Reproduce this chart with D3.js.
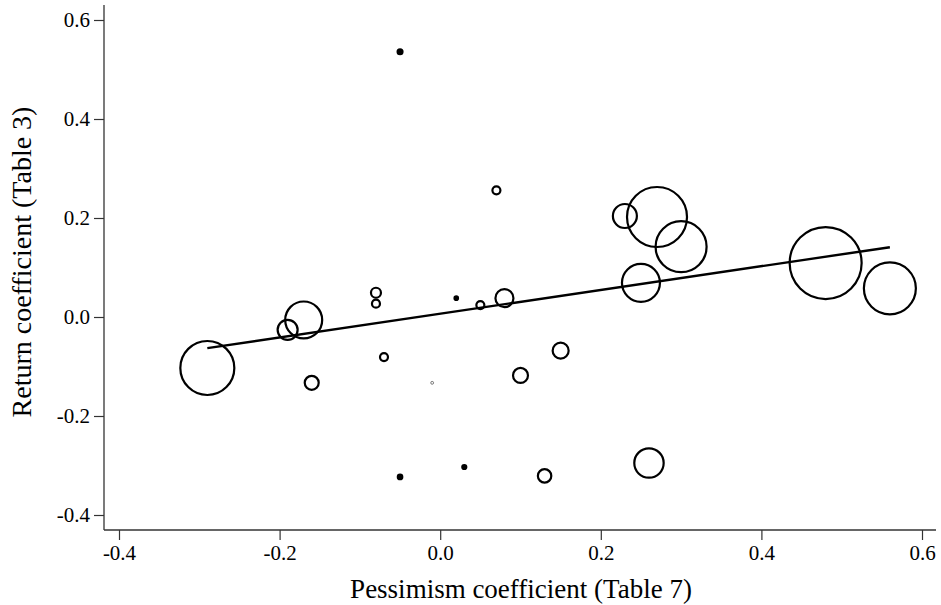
<!DOCTYPE html>
<html>
<head>
<meta charset="utf-8">
<script src="https://cdn.jsdelivr.net/npm/d3@7"></script>
<style>
  html, body { margin: 0; padding: 0; background: #fff; }
  svg { display: block; }
  svg text { font-family: "Liberation Serif", "Times New Roman", serif !important; fill: #000; }
</style>
</head>
<body>
<svg id="chart" width="941" height="605"></svg>
<script>
// Data: pessimism coefficient (x), return coefficient (y), weight (bubble area)
const pessimism = [-0.29, -0.19, -0.17, -0.16, -0.08, -0.08, -0.07, -0.05, -0.05, -0.01, 0.02, 0.03, 0.05, 0.07, 0.08, 0.10, 0.13, 0.15, 0.23, 0.25, 0.26, 0.27, 0.30, 0.48, 0.56];
const returnCoef = [-0.103, -0.026, -0.006, -0.133, 0.049, 0.027, -0.081, 0.536, -0.323, -0.133, 0.038, -0.303, 0.024, 0.256, 0.038, -0.118, -0.321, -0.068, 0.204, 0.069, -0.295, 0.202, 0.142, 0.109, 0.058];
const weights    = [729, 100, 342, 49, 25, 16, 16, 6, 5, 2, 3, 4, 16, 16, 81, 56, 45, 64, 144, 361, 216, 900, 650, 1296, 676];

// Fitted line endpoints
const fitX = [-0.29, 0.56];
const fitY = [-0.063, 0.141];

const xTicks = [-0.4, -0.2, 0.0, 0.2, 0.4, 0.6];
const yTicks = [-0.4, -0.2, 0.0, 0.2, 0.4, 0.6];
const xTitle = "Pessimism coefficient (Table 7)";
const yTitle = "Return coefficient (Table 3)";

const svg = d3.select("#chart");
const plotLeft = 104, plotRight = 936, plotTop = 5, plotBottom = 530;

const x = d3.scaleLinear().domain([-0.4, 0.6]).range([119, 922]);
const y = d3.scaleLinear().domain([-0.4, 0.6]).range([515, 20]);
const r = d3.scaleSqrt().domain([0, d3.max(weights)]).range([0, 36]);

const fmt = v => d3.format(".1f")(v).replace("\u2212", "-");
const serif = '"Liberation Serif", "Times New Roman", serif';

// Axes lines
svg.append("line").attr("x1", plotLeft).attr("x2", plotLeft).attr("y1", plotTop).attr("y2", plotBottom)
  .attr("stroke", "#333").attr("stroke-width", 1.3);
svg.append("line").attr("x1", plotLeft).attr("x2", plotRight).attr("y1", plotBottom).attr("y2", plotBottom)
  .attr("stroke", "#333").attr("stroke-width", 1.3);

const yAxis = d3.axisLeft(y).tickValues(yTicks).tickFormat(fmt).tickSize(10).tickPadding(4);
const gy = svg.append("g").attr("transform", `translate(${plotLeft},0)`).call(yAxis)
  .attr("font-family", serif).attr("font-size", 21);
gy.select(".domain").remove();
gy.selectAll(".tick line").attr("stroke", "#333").attr("stroke-width", 1.2);
gy.selectAll(".tick text").style("font-family", serif).style("font-size", "21px").attr("fill", "#000");

const xAxis = d3.axisBottom(x).tickValues(xTicks).tickFormat(fmt).tickSize(10).tickPadding(5);
const gx = svg.append("g").attr("transform", `translate(0,${plotBottom})`).call(xAxis)
  .attr("font-family", serif).attr("font-size", 21);
gx.select(".domain").remove();
gx.selectAll(".tick line").attr("stroke", "#333").attr("stroke-width", 1.2);
gx.selectAll(".tick text").style("font-family", serif).style("font-size", "21px").attr("fill", "#000");

// Titles
svg.append("text").attr("x", 521).attr("y", 598).attr("text-anchor", "middle")
  .style("font-family", serif).style("font-size", "27px").text(xTitle);
svg.append("text").attr("transform", "translate(31,262) rotate(-90)").attr("text-anchor", "middle")
  .style("font-family", serif).style("font-size", "28px").text(yTitle);

// Bubbles
const data = pessimism.map((p, i) => ({ x: p, y: returnCoef[i], w: weights[i] }));
svg.append("g").selectAll("circle").data(data).join("circle")
  .attr("cx", d => x(d.x)).attr("cy", d => y(d.y))
  .attr("r", d => r(d.w))
  .attr("fill", d => (r(d.w) >= 1.6 && r(d.w) < 2.6) ? "#000" : "none")
  .attr("stroke", d => r(d.w) < 1.6 ? "#777" : "#000")
  .attr("stroke-width", d => r(d.w) < 1.6 ? 1 : 2.2);

// Fit line
svg.append("line")
  .attr("x1", x(fitX[0])).attr("y1", y(fitY[0]))
  .attr("x2", x(fitX[1])).attr("y2", y(fitY[1]))
  .attr("stroke", "#000").attr("stroke-width", 2.4);
</script>
</body>
</html>
